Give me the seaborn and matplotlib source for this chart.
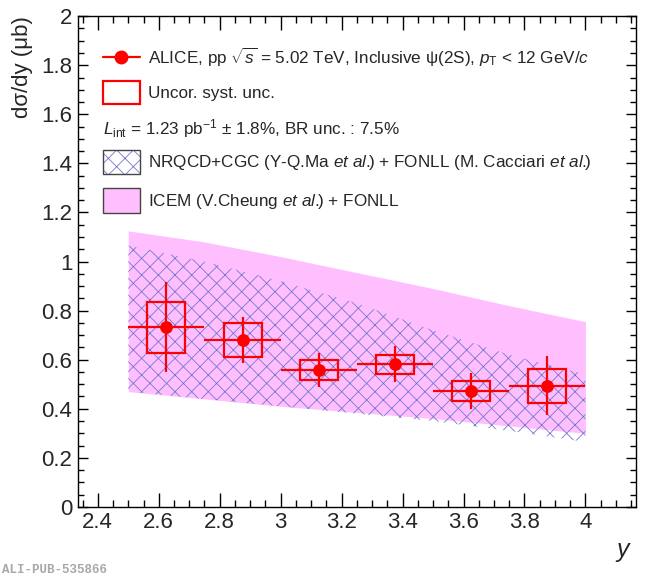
import numpy as np
import matplotlib
matplotlib.use('Agg')
import matplotlib.pyplot as plt
import matplotlib.patches as mpatches
from matplotlib.ticker import MultipleLocator
import seaborn as sns

# ALICE psi(2S) dsigma/dy vs y
y_centers = [2.625, 2.875, 3.125, 3.375, 3.625, 3.875]
bin_half = [0.125, 0.125, 0.125, 0.125, 0.125, 0.125]
xsec = [0.733, 0.680, 0.558, 0.582, 0.472, 0.493]
stat_err = [0.185, 0.092, 0.071, 0.072, 0.073, 0.120]
syst_err = [0.104, 0.070, 0.041, 0.039, 0.042, 0.071]

# model bands
model_y = [2.5, 2.75, 3.0, 3.25, 3.5, 3.75, 4.0]
icem_hi = [1.125, 1.080, 1.020, 0.955, 0.890, 0.820, 0.755]
icem_lo = [0.470, 0.440, 0.410, 0.385, 0.360, 0.330, 0.300]
nrqcd_hi = [1.065, 1.000, 0.920, 0.830, 0.720, 0.620, 0.540]
nrqcd_lo = [0.470, 0.440, 0.410, 0.380, 0.350, 0.310, 0.265]

sns.set_style('white')
plt.rcParams['font.family'] = ['Liberation Sans', 'DejaVu Sans']
plt.rcParams['mathtext.fontset'] = 'custom'
plt.rcParams['mathtext.rm'] = 'Liberation Sans'
plt.rcParams['mathtext.it'] = 'Liberation Sans:italic'
plt.rcParams['hatch.linewidth'] = 0.6

fig = plt.figure(figsize=(6.5, 5.78), dpi=100)
ax = fig.add_axes([0.12, 0.123, 0.858, 0.849])

red = '#ff0000'
pink = '#ffbfff'
hatch_col = '#7676d0'

ax.fill_between(model_y, icem_lo, icem_hi, color=pink, lw=0, zorder=1)
ax.fill_between(model_y, nrqcd_lo, nrqcd_hi, facecolor='none', edgecolor=hatch_col,
                hatch='xx', lw=0, zorder=2)

# syst boxes
for xc, v, s in zip(y_centers, xsec, syst_err):
    ax.add_patch(mpatches.Rectangle((xc - 0.0625, v - s), 0.125, 2 * s, fill=False,
                                    edgecolor=red, lw=1.6, zorder=3))

ax.errorbar(y_centers, xsec, xerr=bin_half, yerr=stat_err, fmt='none',
            ecolor=red, elinewidth=1.6, capsize=0, zorder=4)
sns.scatterplot(x=y_centers, y=xsec, color=red, s=85, edgecolor=red, linewidth=0,
                ax=ax, zorder=5)

ax.set_xlim(2.335, 4.165)
ax.set_ylim(0, 2)
ax.xaxis.set_minor_locator(MultipleLocator(0.05))
ax.yaxis.set_minor_locator(MultipleLocator(0.05))
ax.set_xticks([2.4, 2.6, 2.8, 3.0, 3.2, 3.4, 3.6, 3.8, 4.0])
ax.set_xticklabels(['2.4', '2.6', '2.8', '3', '3.2', '3.4', '3.6', '3.8', '4'])
ax.set_yticks([0, 0.2, 0.4, 0.6, 0.8, 1.0, 1.2, 1.4, 1.6, 1.8, 2.0])
ax.set_yticklabels(['0', '0.2', '0.4', '0.6', '0.8', '1', '1.2', '1.4', '1.6', '1.8', '2'])
ax.tick_params(axis='both', which='both', direction='in', top=True, right=True,
               bottom=True, left=True, labelsize=16, width=1, color='black')
ax.tick_params(axis='x', which='major', length=10, pad=4)
ax.tick_params(axis='x', which='minor', length=5)
ax.tick_params(axis='y', which='major', length=7.5, pad=4)
ax.tick_params(axis='y', which='minor', length=4)
for sp in ax.spines.values():
    sp.set_linewidth(1)
    sp.set_color('black')

fig.text(0.018, 0.972, 'dσ/dy (μb)', rotation=90, ha='left', va='top', fontsize=16)
fig.text(0.972, 0.025, r'$y$', ha='right', va='bottom', fontsize=18)
fig.text(0.003, 0.003, 'ALI-PUB-535866', ha='left', va='bottom', fontsize=9,
         family='Liberation Mono', weight='bold', color='#a8a8a8')

# legend, drawn by hand (ROOT style)
fs = 12.3
tr = ax.transAxes
def axy(py):
    return (507 - py) / 491.0
def axx(px):
    return (px - 78) / 558.0

hx0, hx1, tx = axx(103), axx(140), axx(148)
ax.plot([hx0, hx1], [axy(57), axy(57)], color=red, lw=1.6, transform=tr, clip_on=False)
ax.plot([(hx0 + hx1) / 2], [axy(57)], 'o', color=red, ms=9, transform=tr)
ax.text(tx, axy(57), r'ALICE, pp $\sqrt{s}$ = 5.02 TeV, Inclusive ψ(2S), $p_{\rm T}$ < 12 GeV/$c$',
        transform=tr, fontsize=fs, va='center')
ax.add_patch(mpatches.Rectangle((hx0, axy(104)), hx1 - hx0, axy(81) - axy(104), fill=False,
                                edgecolor=red, lw=1.6, transform=tr))
ax.text(tx, axy(93), 'Uncor. syst. unc.', transform=tr, fontsize=fs, va='center')
ax.text(hx0, axy(128), r'$L_{\rm int}$ = 1.23 pb$^{-1}$ $\pm$ 1.8%, BR unc. : 7.5%',
        transform=tr, fontsize=fs, va='center')
ax.add_patch(mpatches.Rectangle((hx0, axy(174)), hx1 - hx0, axy(150) - axy(174),
                                facecolor='white', edgecolor=hatch_col, hatch='xx', lw=0,
                                transform=tr))
ax.add_patch(mpatches.Rectangle((hx0, axy(174)), hx1 - hx0, axy(150) - axy(174), fill=False,
                                edgecolor='#444444', lw=1, transform=tr))
ax.text(tx, axy(162), r'NRQCD+CGC (Y-Q.Ma $et\ al.\!\!$) + FONLL (M. Cacciari $et\ al.\!\!$)',
        transform=tr, fontsize=fs, va='center')
ax.add_patch(mpatches.Rectangle((hx0, axy(213)), hx1 - hx0, axy(188) - axy(213),
                                facecolor=pink, edgecolor='#444444', lw=1, transform=tr))
ax.text(tx, axy(201), r'ICEM (V.Cheung $et\ al.\!\!$) + FONLL', transform=tr, fontsize=fs,
        va='center')

fig.savefig('out.png', dpi=100)
